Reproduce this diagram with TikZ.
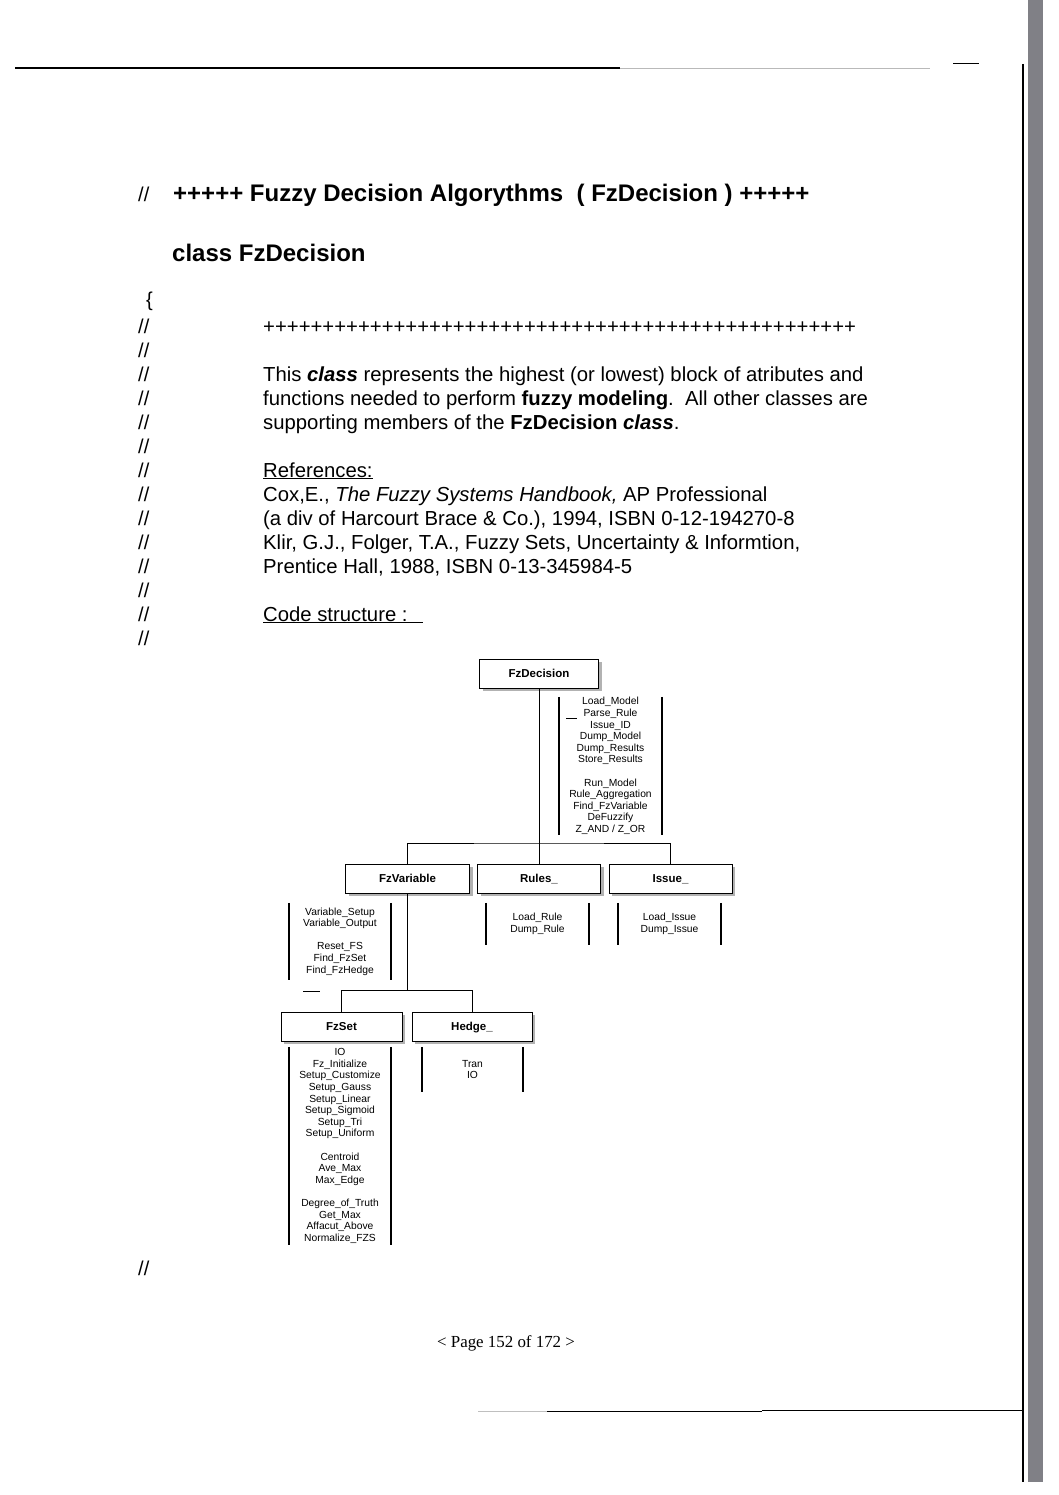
\documentclass[tikz,border=0pt]{standalone}
\usepackage{fontspec}
\setmainfont{Liberation Sans}
\newfontfamily\timesfont{Liberation Serif}
\usetikzlibrary{shadows}
\definecolor{barcol}{RGB}{128,128,134}
\begin{document}
\begin{tikzpicture}[x=1pt,y=-1pt,
  body/.style={anchor=base west,inner sep=0pt,font=\fontsize{20.3}{24}\selectfont},
  slash/.style={anchor=base west,inner sep=0pt,font=\fontsize{20}{24}\selectfont},
  head/.style={anchor=base west,inner sep=0pt,font=\bfseries\fontsize{24}{28}\selectfont},
  cls/.style={draw,line width=1pt,fill=white,inner sep=0pt,minimum height=29pt,
    text height=8.3pt,text depth=0pt,
    font=\bfseries\fontsize{11.5}{13}\selectfont,
    drop shadow={shadow xshift=3pt,shadow yshift=-3pt,fill=gray!60,opacity=1}},
  meth/.style={inner sep=0pt,align=center,font=\fontsize{10.3}{11.6}\selectfont},
  brk/.style={line width=1.6pt},
  conn/.style={line width=0.8pt}
]
\fill[white] (0,0) rectangle (1058,1495);
\useasboundingbox (0,0) rectangle (1058,1495);

% page edges (scan)
\draw[line width=1.2pt] (15,68) -- (620,68);
\draw[gray!55,line width=0.8pt] (620,68) -- (930,68);
\draw[line width=1pt] (953,64) -- (979,64);
\fill[barcol] (1028,0) rectangle (1043,1482);
\draw[line width=1.5pt] (1023,64) -- (1023,1482);
\draw[gray!50,line width=0.8pt] (478,1411) -- (547,1411);
\draw[line width=0.8pt] (547,1411) -- (762,1411);
\draw[line width=1.8pt] (762,1410.5) -- (1022,1410.5);

% heading
\node[slash] (s0) at (138,202) {//};
\node[head] (title) at (173,202) {+++++ Fuzzy Decision Algorythms\ \ ( FzDecision ) +++++};
\node[head] (classname) at (172,262) {class FzDecision};
\node[slash] (brace) at (146,306) {\{};

% comment column
\foreach \i [count=\k] in {333,357,381,405,429,453,477,501,525,549,573,597,621,645}
  \node[slash] (sl\k) at (138,\i) {//};
\node[slash] (slend) at (138,1275) {//};

\node[body] (plus) at (263,333) {++++++++++++++++++++++++++++++++++++++++++++++++++};
\node[body] (t1) at (263,381) {This \textbf{\textit{class}} represents the highest (or lowest) block of atributes and};
\node[body] (t2) at (263,405) {functions needed to perform \textbf{fuzzy modeling}.\ \ All other classes are};
\node[body] (t3) at (263,429) {supporting members of the \textbf{FzDecision \textit{class}}.};
\node[body] (r0) at (263,477) {\underline{References:}};
\node[body] (r1) at (263,501) {Cox,E., \textit{The Fuzzy Systems Handbook,} AP Professional};
\node[body] (r2) at (263,525) {(a div of Harcourt Brace \& Co.), 1994, ISBN 0-12-194270-8};
\node[body] (r3) at (263,549) {Klir, G.J., Folger, T.A., Fuzzy Sets, Uncertainty \& Informtion,};
\node[body] (r4) at (263,573) {Prentice Hall, 1988, ISBN 0-13-345984-5};
\node[body] (cs) at (263,621) {\underline{Code structure :\hspace{15pt}}};

% diagram
\node[cls,minimum width=119pt] (dec) at (539,673.5) {FzDecision};
\node[cls,minimum width=124pt] (var) at (407.5,878.5) {FzVariable};
\node[cls,minimum width=123pt] (rul) at (539,878.5) {Rules\_};
\node[cls,minimum width=123pt] (iss) at (670.5,878.5) {Issue\_};
\node[cls,minimum width=121pt] (set) at (341.5,1026.5) {FzSet};
\node[cls,minimum width=120pt] (hed) at (472,1026.5) {Hedge\_};

\coordinate (j1) at (539,843);
\coordinate (j2) at (407.5,990);
\draw[conn] (dec.south) -- (rul.north);
\draw[conn] (var.north) |- (j1) -| (iss.north);
\draw[conn] (var.south) -- (j2);
\draw[conn] (set.north) |- (j2) -| (hed.north);

% method lists
\node[meth,minimum width=103pt,minimum height=138pt] (decm) at (610.5,766)
 {Load\_Model\\Parse\_Rule\\Issue\_ID\\Dump\_Model\\Dump\_Results\\Store\_Results\\[11.6pt]Run\_Model\\Rule\_Aggregation\\Find\_FzVariable\\DeFuzzify\\Z\_AND / Z\_OR};
\node[meth,minimum width=102pt,minimum height=77pt] (varm) at (340,941.5)
 {Variable\_Setup\\Variable\_Output\\[11.6pt]Reset\_FS\\Find\_FzSet\\Find\_FzHedge};
\node[meth,minimum width=103pt,minimum height=42pt] (rulm) at (537.5,924)
 {Load\_Rule\\Dump\_Rule};
\node[meth,minimum width=103pt,minimum height=42pt] (issm) at (669.5,924)
 {Load\_Issue\\Dump\_Issue};
\node[meth,minimum width=102pt,minimum height=198pt] (setm) at (340,1146)
 {IO\\Fz\_Initialize\\Setup\_Customize\\Setup\_Gauss\\Setup\_Linear\\Setup\_Sigmoid\\Setup\_Tri\\Setup\_Uniform\\[11.6pt]Centroid\\Ave\_Max\\Max\_Edge\\[11.6pt]Degree\_of\_Truth\\Get\_Max\\Affacut\_Above\\Normalize\_FZS};
\node[meth,minimum width=101pt,minimum height=45pt] (hedm) at (472.5,1069.5)
 {Tran\\IO};

\foreach \m in {decm,varm,rulm,issm,setm,hedm}{
  \draw[brk] (\m.north west) -- (\m.south west);
  \draw[brk] (\m.north east) -- (\m.south east);
}
% small scan marks
\draw[line width=0.6pt] (566,718) -- (577,718);
\draw[line width=0.8pt] (303,991) -- (320,991);

% page number
\node[anchor=base,inner sep=0pt,font=\timesfont\fontsize{16.9}{20}\selectfont] (pg) at (506,1347) {< Page 152 of 172 >};
\end{tikzpicture}
\end{document}
